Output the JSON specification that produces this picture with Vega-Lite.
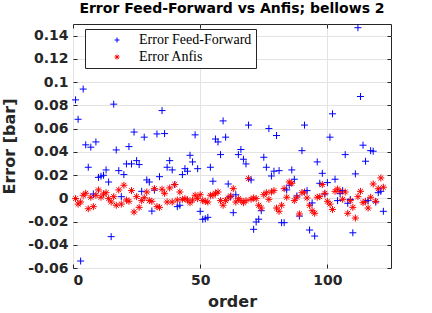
{
  "$schema": "https://vega.github.io/schema/vega-lite/v6.json",
  "width": 318,
  "height": 244,
  "autosize": "none",
  "padding": {"left": 73, "top": 24, "right": 41, "bottom": 45},
  "background": "white",
  "title": {
    "text": "Error Feed-Forward vs Anfis; bellows 2",
    "font": "DejaVu Sans",
    "fontSize": 14,
    "fontWeight": "bold",
    "color": "#000000",
    "anchor": "middle",
    "offset": 6
  },
  "config": {
    "font": "DejaVu Sans",
    "view": {"stroke": "#262626", "strokeWidth": 1},
    "axis": {
      "domain": false,
      "grid": true,
      "gridColor": "#e3e3e3",
      "gridWidth": 1,
      "tickColor": "#262626",
      "tickSize": -4,
      "labelFont": "DejaVu Sans",
      "labelFontSize": 14,
      "labelFontWeight": "bold",
      "labelColor": "#262626",
      "labelPadding": 9,
      "titleFont": "DejaVu Sans",
      "titleFontSize": 16,
      "titleFontWeight": "bold",
      "titleColor": "#262626"
    },
    "legend": {
      "orient": "none",
      "legendX": 12,
      "legendY": 5,
      "padding": 4,
      "rowPadding": 3,
      "strokeColor": "#262626",
      "fillColor": "white",
      "labelFont": "Liberation Serif",
      "labelFontSize": 14,
      "labelColor": "#000000",
      "symbolSize": 25,
      "symbolStrokeWidth": 1,
      "symbolOffset": 21,
      "labelOffset": 15,
      "title": null
    }
  },
  "data": {
    "values": [
      {"order": 1, "Error Feed-Forward": 0.0847, "Error Anfis": -0.0003},
      {"order": 2, "Error Feed-Forward": 0.068, "Error Anfis": -0.005},
      {"order": 3, "Error Feed-Forward": -0.054, "Error Anfis": -0.0032},
      {"order": 4, "Error Feed-Forward": 0.094, "Error Anfis": 0.0026},
      {"order": 5, "Error Feed-Forward": 0.046, "Error Anfis": 0.0043},
      {"order": 6, "Error Feed-Forward": 0.0267, "Error Anfis": -0.009},
      {"order": 7, "Error Feed-Forward": 0.044, "Error Anfis": 0.0009},
      {"order": 8, "Error Feed-Forward": 0.0037, "Error Anfis": -0.0072},
      {"order": 9, "Error Feed-Forward": 0.0485, "Error Anfis": 0.0026},
      {"order": 10, "Error Feed-Forward": 0.018, "Error Anfis": 0.0072},
      {"order": 11, "Error Feed-Forward": 0.019, "Error Anfis": 0.0009},
      {"order": 12, "Error Feed-Forward": 0.0198, "Error Anfis": 0.0037},
      {"order": 13, "Error Feed-Forward": 0.0244, "Error Anfis": 0.0048},
      {"order": 14, "Error Feed-Forward": 0.014, "Error Anfis": -0.0003},
      {"order": 15, "Error Feed-Forward": -0.033, "Error Anfis": -0.0032},
      {"order": 16, "Error Feed-Forward": 0.081, "Error Anfis": 0.0014},
      {"order": 17, "Error Feed-Forward": 0.0416, "Error Anfis": -0.006},
      {"order": 18, "Error Feed-Forward": 0.0238, "Error Anfis": 0.0072},
      {"order": 19, "Error Feed-Forward": 0.0014, "Error Anfis": -0.005},
      {"order": 20, "Error Feed-Forward": 0.0204, "Error Anfis": 0.0112},
      {"order": 21, "Error Feed-Forward": 0.0296, "Error Anfis": -0.0015},
      {"order": 22, "Error Feed-Forward": 0.0445, "Error Anfis": -0.0026},
      {"order": 23, "Error Feed-Forward": 0.0296, "Error Anfis": 0.0066},
      {"order": 24, "Error Feed-Forward": 0.057, "Error Anfis": -0.0118},
      {"order": 25, "Error Feed-Forward": 0.0324, "Error Anfis": 0.0014},
      {"order": 26, "Error Feed-Forward": 0.029, "Error Anfis": -0.0078},
      {"order": 27, "Error Feed-Forward": 0.006, "Error Anfis": -0.002},
      {"order": 28, "Error Feed-Forward": 0.0526, "Error Anfis": 0.0005},
      {"order": 29, "Error Feed-Forward": 0.0158, "Error Anfis": 0.0054},
      {"order": 30, "Error Feed-Forward": 0.014, "Error Anfis": -0.002},
      {"order": 31, "Error Feed-Forward": -0.011, "Error Anfis": -0.0026},
      {"order": 32, "Error Feed-Forward": 0.007, "Error Anfis": 0.0083},
      {"order": 33, "Error Feed-Forward": 0.0554, "Error Anfis": -0.0072},
      {"order": 34, "Error Feed-Forward": 0.0186, "Error Anfis": -0.0078},
      {"order": 35, "Error Feed-Forward": 0.0755, "Error Anfis": 0.0078},
      {"order": 36, "Error Feed-Forward": 0.0557, "Error Anfis": 0.0043},
      {"order": 37, "Error Feed-Forward": 0.0267, "Error Anfis": -0.0032},
      {"order": 38, "Error Feed-Forward": 0.0324, "Error Anfis": 0.0089},
      {"order": 39, "Error Feed-Forward": 0.0244, "Error Anfis": -0.0032},
      {"order": 40, "Error Feed-Forward": 0.0118, "Error Anfis": 0.0118},
      {"order": 41, "Error Feed-Forward": -0.0072, "Error Anfis": -0.0015},
      {"order": 42, "Error Feed-Forward": -0.006, "Error Anfis": 0.0054},
      {"order": 43, "Error Feed-Forward": 0.0204, "Error Anfis": -0.0009},
      {"order": 44, "Error Feed-Forward": 0.0255, "Error Anfis": -0.0003},
      {"order": 45, "Error Feed-Forward": 0.0233, "Error Anfis": -0.0015},
      {"order": 46, "Error Feed-Forward": 0.037, "Error Anfis": -0.0038},
      {"order": 47, "Error Feed-Forward": 0.0313, "Error Anfis": -0.0015},
      {"order": 48, "Error Feed-Forward": 0.0546, "Error Anfis": 0.0026},
      {"order": 49, "Error Feed-Forward": 0.0255, "Error Anfis": -0.0003},
      {"order": 50, "Error Feed-Forward": -0.0112, "Error Anfis": 0.0031},
      {"order": 51, "Error Feed-Forward": -0.0181, "Error Anfis": -0.002},
      {"order": 52, "Error Feed-Forward": -0.0176, "Error Anfis": -0.0026},
      {"order": 53, "Error Feed-Forward": -0.0164, "Error Anfis": -0.0032},
      {"order": 54, "Error Feed-Forward": 0.0267, "Error Anfis": 0.0026},
      {"order": 55, "Error Feed-Forward": 0.0147, "Error Anfis": 0.0026},
      {"order": 56, "Error Feed-Forward": 0.051, "Error Anfis": 0.0043},
      {"order": 57, "Error Feed-Forward": 0.0485, "Error Anfis": 0.0054},
      {"order": 58, "Error Feed-Forward": 0.0376, "Error Anfis": -0.002},
      {"order": 59, "Error Feed-Forward": 0.0666, "Error Anfis": -0.006},
      {"order": 60, "Error Feed-Forward": 0.0526, "Error Anfis": -0.002},
      {"order": 61, "Error Feed-Forward": 0.0123, "Error Anfis": 0.0003},
      {"order": 62, "Error Feed-Forward": 0.0014, "Error Anfis": 0.002},
      {"order": 63, "Error Feed-Forward": -0.0124, "Error Anfis": 0.0083},
      {"order": 64, "Error Feed-Forward": 0.003, "Error Anfis": -0.0032},
      {"order": 65, "Error Feed-Forward": 0.0376, "Error Anfis": -0.0003},
      {"order": 66, "Error Feed-Forward": 0.042, "Error Anfis": -0.002},
      {"order": 67, "Error Feed-Forward": 0.0336, "Error Anfis": -0.0038},
      {"order": 68, "Error Feed-Forward": 0.0296, "Error Anfis": -0.002},
      {"order": 69, "Error Feed-Forward": 0.063, "Error Anfis": 0.0169},
      {"order": 70, "Error Feed-Forward": 0.0158, "Error Anfis": -0.0009},
      {"order": 71, "Error Feed-Forward": -0.0267, "Error Anfis": 0.0003},
      {"order": 72, "Error Feed-Forward": -0.0204, "Error Anfis": -0.0003},
      {"order": 73, "Error Feed-Forward": -0.018, "Error Anfis": -0.006},
      {"order": 74, "Error Feed-Forward": -0.0107, "Error Anfis": -0.0084},
      {"order": 75, "Error Feed-Forward": 0.0353, "Error Anfis": 0.0031},
      {"order": 76, "Error Feed-Forward": 0.0267, "Error Anfis": 0.0048},
      {"order": 77, "Error Feed-Forward": 0.06, "Error Anfis": -0.0009},
      {"order": 78, "Error Feed-Forward": 0.0192, "Error Anfis": 0.0054},
      {"order": 79, "Error Feed-Forward": 0.0233, "Error Anfis": 0.0066},
      {"order": 80, "Error Feed-Forward": 0.054, "Error Anfis": -0.0084},
      {"order": 81, "Error Feed-Forward": 0.0238, "Error Anfis": -0.0112},
      {"order": 82, "Error Feed-Forward": -0.021, "Error Anfis": -0.006},
      {"order": 83, "Error Feed-Forward": -0.021, "Error Anfis": 0.0083},
      {"order": 84, "Error Feed-Forward": 0.0072, "Error Anfis": 0.0009},
      {"order": 85, "Error Feed-Forward": 0.0112, "Error Anfis": 0.014},
      {"order": 86, "Error Feed-Forward": 0.0244, "Error Anfis": 0.0129},
      {"order": 87, "Error Feed-Forward": 0.0164, "Error Anfis": -0.002},
      {"order": 88, "Error Feed-Forward": 0.002, "Error Anfis": 0.0009},
      {"order": 89, "Error Feed-Forward": -0.0153, "Error Anfis": -0.0135},
      {"order": 90, "Error Feed-Forward": 0.041, "Error Anfis": 0.0048},
      {"order": 91, "Error Feed-Forward": 0.063, "Error Anfis": 0.0054},
      {"order": 92, "Error Feed-Forward": 0.0066, "Error Anfis": 0.0003},
      {"order": 93, "Error Feed-Forward": -0.0273, "Error Anfis": -0.006},
      {"order": 94, "Error Feed-Forward": -0.004, "Error Anfis": -0.0107},
      {"order": 95, "Error Feed-Forward": -0.0325, "Error Anfis": -0.0129},
      {"order": 96, "Error Feed-Forward": 0.0313, "Error Anfis": 0.0009},
      {"order": 97, "Error Feed-Forward": 0.0129, "Error Anfis": 0.0014},
      {"order": 98, "Error Feed-Forward": 0.0215, "Error Anfis": 0.0118},
      {"order": 99, "Error Feed-Forward": 0.0037, "Error Anfis": 0.0043},
      {"order": 100, "Error Feed-Forward": 0.0135, "Error Anfis": -0.0026},
      {"order": 101, "Error Feed-Forward": 0.0526, "Error Anfis": -0.005},
      {"order": 102, "Error Feed-Forward": 0.0727, "Error Anfis": -0.0096},
      {"order": 103, "Error Feed-Forward": 0.0164, "Error Anfis": 0.006},
      {"order": 104, "Error Feed-Forward": -0.002, "Error Anfis": 0.008},
      {"order": 105, "Error Feed-Forward": 0.004, "Error Anfis": 0.006},
      {"order": 106, "Error Feed-Forward": 0.0066, "Error Anfis": -0.0009},
      {"order": 107, "Error Feed-Forward": 0.0376, "Error Anfis": 0.0054},
      {"order": 108, "Error Feed-Forward": -0.0043, "Error Anfis": -0.0129},
      {"order": 109, "Error Feed-Forward": -0.001, "Error Anfis": -0.002},
      {"order": 110, "Error Feed-Forward": -0.0297, "Error Anfis": -0.0078},
      {"order": 111, "Error Feed-Forward": 0.021, "Error Anfis": -0.017},
      {"order": 112, "Error Feed-Forward": 0.1468, "Error Anfis": 0.0014},
      {"order": 113, "Error Feed-Forward": 0.0876, "Error Anfis": 0.006},
      {"order": 114, "Error Feed-Forward": 0.0457, "Error Anfis": -0.0038},
      {"order": 115, "Error Feed-Forward": 0.0319, "Error Anfis": -0.0026},
      {"order": 116, "Error Feed-Forward": -0.002, "Error Anfis": -0.0084},
      {"order": 117, "Error Feed-Forward": 0.041, "Error Anfis": 0.0009},
      {"order": 118, "Error Feed-Forward": 0.0405, "Error Anfis": 0.0123},
      {"order": 119, "Error Feed-Forward": -0.0032, "Error Anfis": -0.0026},
      {"order": 120, "Error Feed-Forward": 0.0048, "Error Anfis": 0.0083},
      {"order": 121, "Error Feed-Forward": 0.006, "Error Anfis": 0.0175},
      {"order": 122, "Error Feed-Forward": -0.0112, "Error Anfis": 0.0095}
    ]
  },
  "transform": [
    {"fold": ["Error Feed-Forward", "Error Anfis"], "as": ["series", "value"]}
  ],
  "layer": [
    {
      "mark": {"type": "point", "filled": false, "size": 49, "strokeWidth": 1, "opacity": 1},
      "encoding": {
        "x": {
          "field": "order", "type": "quantitative",
          "scale": {"domain": [0, 125], "nice": false, "zero": false},
          "axis": {"values": [0, 50, 100], "title": "order", "titlePadding": 6}
        },
        "y": {
          "field": "value", "type": "quantitative",
          "scale": {"domain": [-0.06, 0.15], "nice": false, "zero": false},
          "axis": {
            "values": [-0.06, -0.04, -0.02, 0, 0.02, 0.04, 0.06, 0.08, 0.1, 0.12, 0.14],
            "title": "Error [bar]",
            "titlePadding": 10,
            "labelExpr": "replace(format(datum.value, '~g'), '\u2212', '-')"
          }
        },
        "color": {
          "field": "series", "type": "nominal",
          "scale": {"domain": ["Error Feed-Forward", "Error Anfis"], "range": ["#0000ff", "#ff0000"]}
        },
        "shape": {
          "field": "series", "type": "nominal",
          "scale": {
            "domain": ["Error Feed-Forward", "Error Anfis"],
            "range": ["M-1,0L1,0M0,-1L0,1", "M-1,0L1,0M0,-1L0,1M-0.7,-0.7L0.7,0.7M-0.7,0.7L0.7,-0.7"]
          }
        }
      }
    },
    {
      "mark": {"type": "point", "opacity": 0},
      "encoding": {
        "x": {
          "field": "order", "type": "quantitative",
          "axis": {"orient": "top", "values": [0, 50, 100], "labels": false, "title": null, "grid": false}
        },
        "y": {
          "field": "value", "type": "quantitative",
          "axis": {"orient": "right", "values": [-0.06, -0.04, -0.02, 0, 0.02, 0.04, 0.06, 0.08, 0.1, 0.12, 0.14], "labels": false, "title": null, "grid": false}
        }
      }
    }
  ],
  "resolve": {"axis": {"x": "independent", "y": "independent"}}
}
